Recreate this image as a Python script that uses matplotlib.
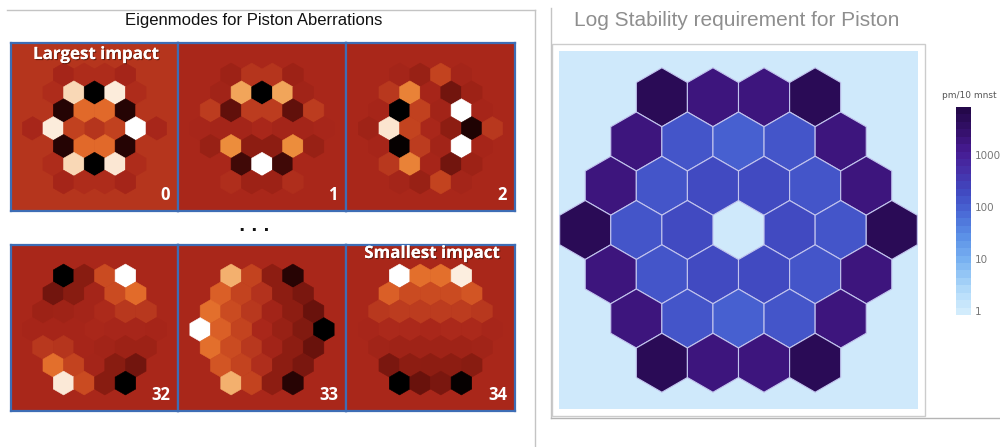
import numpy as np
import matplotlib
matplotlib.use("Agg")
import matplotlib.pyplot as plt
import matplotlib.patheffects as pe
from matplotlib.colors import LinearSegmentedColormap, Normalize, LogNorm
from matplotlib.patches import RegularPolygon, Rectangle
from matplotlib.collections import PatchCollection
from matplotlib.lines import Line2D
from matplotlib.cm import ScalarMappable

# segment layout: 7 rows of a hexagonal aperture, central segment missing
ROW_COUNTS = [4, 5, 6, 7, 6, 5, 4]

# eigenmode amplitudes, listed row by row (top to bottom, left to right)
mode_0 = [-0.13, -0.05, -0.05, -0.13,
          -0.05, 0.69, -1.0, 0.75, -0.05,
          0.0, -0.87, 0.27, 0.27, -0.87, 0.0,
          -0.10, 0.75, 0.08, 0.08, 0.82, -0.10,
          0.0, -0.87, 0.27, 0.27, -0.87, 0.0,
          -0.05, 0.69, -1.0, 0.74, -0.05,
          -0.13, -0.05, -0.05, -0.13]
mode_1 = [-0.15, 0.10, 0.10, -0.15,
          -0.10, 0.65, -1.0, 0.65, -0.10,
          0.15, -0.60, 0.15, 0.15, -0.60, 0.15,
          -0.02, -0.05, -0.05, -0.05, -0.05, -0.02,
          -0.20, 0.55, -0.30, -0.30, 0.55, -0.20,
          0.0, -0.75, 1.0, -0.75, 0.0,
          0.05, -0.15, -0.15, 0.05]
mode_2 = [-0.05, -0.20, 0.20, -0.05,
          0.12, 0.50, -0.03, -0.50, -0.15,
          -0.03, -1.0, 0.18, -0.08, 1.0, -0.03,
          -0.12, 0.90, 0.20, -0.30, -0.88, 0.12,
          -0.03, -0.97, 0.15, -0.08, 1.0, -0.03,
          0.12, 0.50, -0.03, -0.50, -0.15,
          -0.05, -0.20, 0.20, -0.05]
mode_32 = [-1.0, -0.35, 0.25, 1.0,
           -0.50, -0.35, -0.05, 0.25, 0.40,
           -0.15, -0.12, -0.05, 0.03, 0.12, 0.12,
           -0.03, -0.03, -0.03, -0.02, -0.02, -0.03,
           0.12, 0.10, -0.03, -0.08, -0.15, -0.15,
           0.42, 0.20, -0.05, -0.35, -0.50,
           0.92, 0.25, -0.35, -1.0]
mode_33 = [0.70, 0.20, -0.30, -0.85,
           0.35, 0.20, 0.08, -0.30, -0.45,
           0.42, 0.25, 0.12, -0.08, -0.30, -0.55,
           1.0, 0.35, 0.20, -0.20, -0.40, -1.0,
           0.42, 0.25, 0.12, -0.08, -0.30, -0.55,
           0.30, 0.20, 0.05, -0.30, -0.45,
           0.70, 0.20, -0.30, -0.85]
mode_34 = [1.0, 0.42, 0.42, 0.93,
           0.35, 0.25, 0.25, 0.25, 0.30,
           0.12, 0.15, 0.15, 0.15, 0.15, 0.12,
           -0.02, 0.02, 0.02, 0.02, 0.02, -0.02,
           -0.10, -0.12, -0.12, -0.12, -0.12, -0.10,
           -0.45, -0.30, -0.30, -0.30, -0.35,
           -1.0, -0.55, -0.45, -0.97]

mode_numbers = ["0", "1", "2", "32", "33", "34"]
modes = [mode_0, mode_1, mode_2, mode_32, mode_33, mode_34]

# stability requirement per segment (pm / 10 min)
stability_req = [6000, 1800, 1800, 6000,
                 1800, 140, 95, 140, 1800,
                 1800, 140, 210, 210, 140, 1800,
                 6000, 140, 210, 210, 140, 6000,
                 1800, 140, 210, 210, 140, 1800,
                 1800, 140, 95, 140, 1800,
                 6000, 1800, 1800, 6000]
cbar_ticks = [1, 10, 100, 1000]

W, H = 1000, 447

heat = LinearSegmentedColormap.from_list("seg_heat", [
    (0.00, "#000000"), (0.08, "#2a0404"), (0.18, "#5a0e0a"),
    (0.30, "#821a10"), (0.42, "#9c2216"), (0.50, "#a8261a"),
    (0.56, "#b8381e"), (0.62, "#c84820"), (0.70, "#e26a2a"),
    (0.80, "#ef9842"), (0.90, "#f6c898"), (1.00, "#ffffff")])

stab_cmap = LinearSegmentedColormap.from_list("stab", [
    (0.00, "#d2ecfc"), (0.10, "#b4dcfa"), (0.25, "#7ab4f2"),
    (0.38, "#5a8ee6"), (0.50, "#4866d4"), (0.60, "#4048c0"),
    (0.70, "#4630a8"), (0.80, "#461a92"), (0.90, "#34106a"),
    (1.00, "#24084a")], N=28)


def px_rect(x0, y0, x1, y1):
    return [x0 / W, 1 - y1 / H, (x1 - x0) / W, (y1 - y0) / H]


def hex_centers():
    pts = []
    for i, n in enumerate(ROW_COUNTS):
        for j in range(n):
            if i == 3 and j == 3:
                continue
            pts.append(((j - (n - 1) / 2) * np.sqrt(3), (3 - i) * 1.5))
    return pts


def hex_axes(rect_px, r_px, dy_px=0.0):
    x0, y0, x1, y1 = rect_px
    ax = fig.add_axes(px_rect(x0, y0, x1, y1))
    hw = (x1 - x0) / 2 / r_px
    hh = (y1 - y0) / 2 / r_px
    dy = dy_px / r_px
    ax.set_xlim(-hw, hw)
    ax.set_ylim(-hh - dy, hh - dy)
    ax.set_xticks([])
    ax.set_yticks([])
    return ax


def fig_line(x, y, color="#c4c4c4", lw=1.0):
    fig.add_artist(Line2D([v / W for v in x], [1 - v / H for v in y],
                          transform=fig.transFigure, color=color, lw=lw))


fig = plt.figure(figsize=(W / 100, H / 100), dpi=100)
fig.patch.set_facecolor("white")

# ---- left: eigenmode maps ----
fig_line([7, 535], [10, 10])
fig_line([535, 535], [10, 447])
fig.text(254 / W, 1 - 20 / H, "Eigenmodes for Piston Aberrations",
         ha="center", va="center", fontsize=12, family="Liberation Sans",
         color="#111111")
fig.text(254 / W, 1 - 226 / H, ". . .", ha="center", va="center",
         fontsize=12, fontweight="bold", color="#111111")

col_edges = [11, 178, 346, 515]
row_edges = [(43, 211), (245, 411)]
centers = hex_centers()

for k, (vals, label) in enumerate(zip(modes, mode_numbers)):
    r, c = divmod(k, 3)
    x0, x1 = col_edges[c], col_edges[c + 1]
    y0, y1 = row_edges[r]
    ax = hex_axes((x0, y0, x1, y1), 11.9, dy_px=-1.5)
    norm = Normalize(vmin=min(vals), vmax=max(vals))
    ax.set_facecolor(heat(norm(0.0)))
    hexes = [RegularPolygon(p, numVertices=6, radius=1.0) for p in centers]
    pc = PatchCollection(hexes, cmap=heat, norm=norm, edgecolor="face",
                         linewidth=0.4)
    pc.set_array(np.array(vals))
    ax.add_collection(pc)
    for s in ax.spines.values():
        s.set_color("#3d6db5")
        s.set_linewidth(1.6)
    ax.text((x1 - 8 - x0) / (x1 - x0), 16 / (y1 - y0), label,
            transform=ax.transAxes, ha="right", va="center", fontsize=12,
            fontweight="bold", family="Open Sans", color="white")

shadow = [pe.withSimplePatchShadow(offset=(0.8, -0.8), shadow_rgbFace="#3a1008",
                                   alpha=0.6), pe.Normal()]
fig.text(96 / W, 1 - 54 / H, "Largest impact", ha="center", va="center",
         fontsize=12.2, fontweight="bold", family="Open Sans", color="white",
         path_effects=shadow)
fig.text(432 / W, 1 - 253 / H, "Smallest impact", ha="center", va="center",
         fontsize=12.2, fontweight="bold", family="Open Sans", color="white",
         path_effects=shadow)

# ---- right: stability requirement map ----
fig_line([551, 551], [8, 418])
fig_line([551, 1000], [418, 418], color="#b4b4b4")
fig.add_artist(Rectangle((552 / W, 1 - 416 / H), (925 - 552) / W, (416 - 44) / H,
                         transform=fig.transFigure, fill=False,
                         edgecolor="#cccccc", lw=1.0))
fig.text(574 / W, 1 - 21 / H, "Log Stability requirement for Piston",
         ha="left", va="center", fontsize=15, family="Liberation Sans",
         color="#8e8e8e")

snorm = LogNorm(vmin=0.84, vmax=8500)
ax = hex_axes((559, 51, 918, 409), 29.5)
ax.set_facecolor("#cfe9fb")
for s in ax.spines.values():
    s.set_visible(False)
hexes = [RegularPolygon(p, numVertices=6, radius=1.0) for p in centers]
pc = PatchCollection(hexes, cmap=stab_cmap, norm=snorm, edgecolor="#c2c4ee",
                     linewidth=0.8)
pc.set_array(np.array(stability_req, dtype=float))
ax.add_collection(pc)

cax = fig.add_axes(px_rect(956, 107, 971, 315))
cb = fig.colorbar(ScalarMappable(norm=snorm, cmap=stab_cmap), cax=cax,
                  ticks=cbar_ticks)
cb.outline.set_visible(False)
cb.ax.set_yticklabels([str(t) for t in cbar_ticks])
cb.ax.tick_params(length=0, labelsize=7.5, labelcolor="#777777", pad=3)
cb.ax.minorticks_off()
fig.text(969 / W, 1 - 96 / H, "pm/10 mnst", ha="center", va="center",
         fontsize=6.5, color="#555555")

plt.savefig("out.png", dpi=100)
